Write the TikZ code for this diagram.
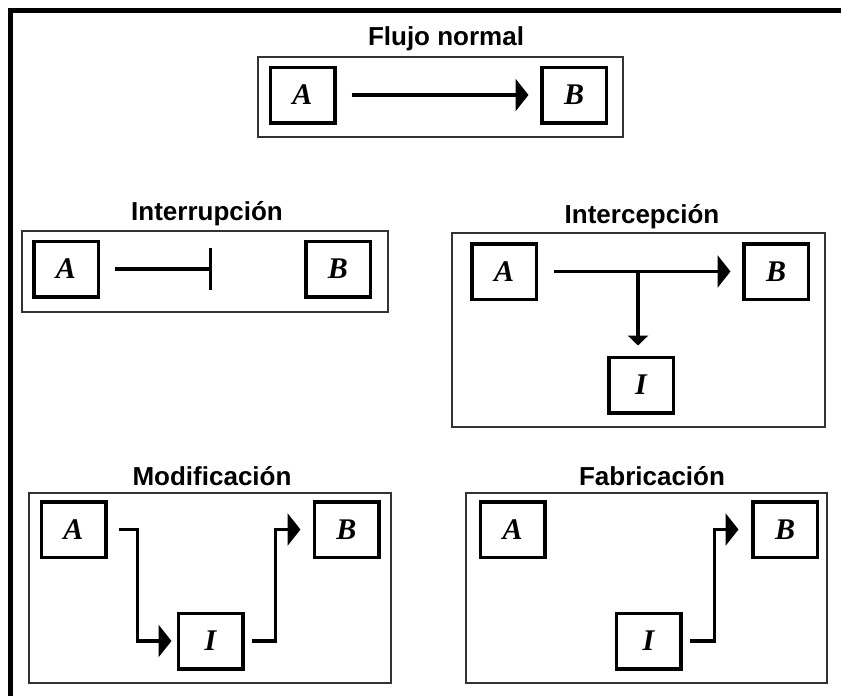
\documentclass[tikz,border=0pt]{standalone}
\usepackage{fontspec}
\setmainfont{Liberation Serif}
\newfontfamily\headfont{Liberation Sans}
\usetikzlibrary{arrows.meta,calc}
\begin{document}
\begin{tikzpicture}[x=1pt,y=-1pt,
  panel/.style={draw=black!80,line width=1.5pt},
  letterbox/.style={draw,line width=3.5pt,minimum width=64.5pt,minimum height=55.5pt,
    inner sep=0pt,font=\fontsize{30}{30}\selectfont\bfseries\itshape},
  heading/.style={font=\headfont\fontsize{26}{26}\selectfont\bfseries,anchor=base,inner sep=0pt},
  conn/.style={line width=3.2pt},
  flow/.style={conn,-{Triangle[length=13pt,width=32pt]}},
  drop/.style={conn,-{Triangle[length=10pt,width=20pt]}},
  cut/.style={conn,-{Bar[width=42pt]}}
]
\useasboundingbox (0,0) rectangle (841,696);

% outer frame (left and top edges)
\draw[line width=4.5pt] (10.5,696) -- (10.5,10.5) -- (841,10.5);

% ---- Flujo normal ----
\node[heading] (tFlujo) at (446,45) {Flujo normal};
\draw[panel] (258,57) rectangle (623,137);
\node[letterbox] (fA) at (302.5,95) {A};
\node[letterbox] (fB) at (574,95) {B};
\draw[flow,shorten <=15pt,shorten >=11.5pt] (fA) -- (fB);

% ---- Interrupcion ----
\node[heading] (tInt) at (207,220) {Interrupción};
\draw[panel] (22,231) rectangle (388,312);
\node[letterbox] (iA) at (66,269) {A};
\node[letterbox] (iB) at (338,269) {B};
\coordinate (stop) at (212,269);
\draw[cut,shorten <=14.5pt] (iA) -- (stop);

% ---- Intercepcion ----
\node[heading] (tIcp) at (642,223) {Intercepción};
\draw[panel] (452,233) rectangle (825,427);
\node[letterbox] (xA) at (504,271.5) {A};
\node[letterbox] (xB) at (776,271.5) {B};
\node[letterbox] (xI) at (641,385) {I};
\coordinate (split) at (638,271.5);
\draw[flow,shorten <=15.5pt,shorten >=11.5pt] (xA) -- (xB);
\draw[drop,shorten >=10pt] (split) -- (split |- xI.north);

% ---- Modificacion ----
\node[heading] (tMod) at (212,485) {Modificación};
\draw[panel] (29,493) rectangle (391,683);
\node[letterbox] (mA) at (73.5,529.5) {A};
\node[letterbox] (mI) at (210.5,641) {I};
\node[letterbox] (mB) at (346.5,529.5) {B};
\draw[flow] ([xshift=11pt]mA.east) -- ++(19,0) |- ([xshift=-5pt]mI.west);
\draw[flow] ([xshift=7pt]mI.east) -- ++(24,0) |- ([xshift=-12pt]mB.west);

% ---- Fabricacion ----
\node[heading] (tFab) at (652,485) {Fabricación};
\draw[panel] (466,493) rectangle (827,683);
\node[letterbox] (bA) at (512.5,529.5) {A};
\node[letterbox] (bB) at (785,529.5) {B};
\node[letterbox] (bI) at (648.5,641) {I};
\draw[flow] ([xshift=7pt]bI.east) -- ++(25,0) |- ([xshift=-12.5pt]bB.west);

\end{tikzpicture}
\end{document}
